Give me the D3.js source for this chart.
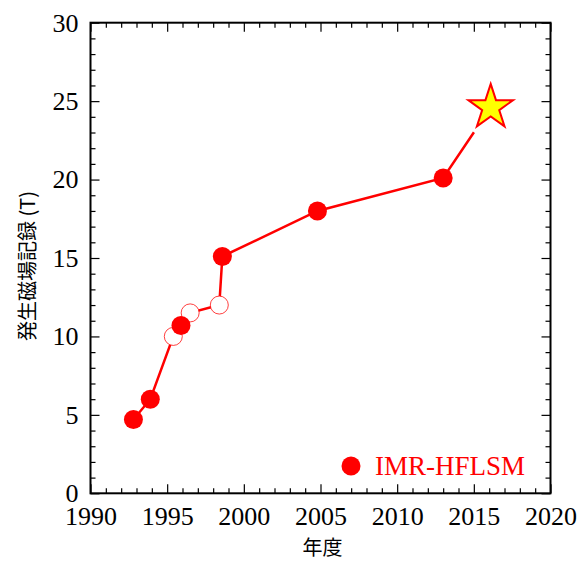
<!DOCTYPE html>
<html>
<head>
<meta charset="utf-8">
<script src="https://cdn.jsdelivr.net/npm/d3@7"></script>
<style>
  html, body { margin: 0; padding: 0; background: #fff; }
  svg { display: block; }
</style>
</head>
<body>
<div id="chart"></div>
<script>
// Record fields generated at the lab, by year
const years  = [1992.8, 1993.9, 1995.4, 1995.9, 1996.5, 1998.4, 1998.6, 2004.8, 2013.0, 2016.1];
const fields = [4.7,    6.0,    10.0,   10.7,   11.5,   12.0,   15.1,   18.0,   20.1,   24.6];
// "filled" = marked record, "open" = intermediate, "star" = latest record
const kinds  = ["filled", "filled", "open", "filled", "open", "open", "filled", "filled", "filled", "star"];

const xTicks = [1990, 1995, 2000, 2005, 2010, 2015, 2020];
const yTicks = [0, 5, 10, 15, 20, 25, 30];
const xLabel = "年度";
const yLabel = "発生磁場記録 (T)";
const legendLabel = "IMR-HFLSM";

const W = 577, H = 561;
const margin = { left: 90.5, right: 26.5, top: 22.7, bottom: 67.7 };
const iw = W - margin.left - margin.right;
const ih = H - margin.top - margin.bottom;

const RED = "#ff0000";
const serif = "'Liberation Serif', 'Times New Roman', serif";
const cjk = "'Noto Sans CJK JP', 'Noto Sans', sans-serif";

const svg = d3.select("#chart").append("svg")
  .attr("width", W).attr("height", H);

const g = svg.append("g").attr("transform", `translate(${margin.left},${margin.top})`);

const x = d3.scaleLinear().domain([1990, 2020]).range([0, iw]);
const y = d3.scaleLinear().domain([0, 30]).range([ih, 0]);

const xMinor = d3.range(1990, 2021, 1).filter(v => v % 5 !== 0);
const yMinor = d3.range(0, 31, 1).filter(v => v % 5 !== 0);

function styleAxis(sel) {
  sel.select(".domain").remove();
  sel.selectAll(".tick line").attr("stroke", "#000").attr("stroke-width", 1.2);
  sel.selectAll(".tick text")
    .attr("fill", "#000")
    .style("font-family", serif)
    .style("font-size", "26px");
}

// Major ticks with labels (bottom, left), inward
g.append("g").attr("transform", `translate(0,${ih})`)
  .call(d3.axisBottom(x).tickValues(xTicks).tickFormat(d3.format("d")).tickSize(-9).tickPadding(13))
  .call(styleAxis);
g.append("g")
  .call(d3.axisLeft(y).tickValues(yTicks).tickFormat(d3.format("d")).tickSize(-9).tickPadding(12))
  .call(styleAxis);

// Minor ticks bottom / left
g.append("g").attr("transform", `translate(0,${ih})`)
  .call(d3.axisBottom(x).tickValues(xMinor).tickFormat("").tickSize(-5))
  .call(styleAxis);
g.append("g")
  .call(d3.axisLeft(y).tickValues(yMinor).tickFormat("").tickSize(-5))
  .call(styleAxis);

// Mirrored ticks on top / right
g.append("g")
  .call(d3.axisTop(x).tickValues(xTicks).tickFormat("").tickSize(-9))
  .call(styleAxis);
g.append("g")
  .call(d3.axisTop(x).tickValues(xMinor).tickFormat("").tickSize(-5))
  .call(styleAxis);
g.append("g").attr("transform", `translate(${iw},0)`)
  .call(d3.axisRight(y).tickValues(yTicks).tickFormat("").tickSize(-9))
  .call(styleAxis);
g.append("g").attr("transform", `translate(${iw},0)`)
  .call(d3.axisRight(y).tickValues(yMinor).tickFormat("").tickSize(-5))
  .call(styleAxis);

// Frame
g.append("rect")
  .attr("x", 0).attr("y", 0).attr("width", iw).attr("height", ih)
  .attr("fill", "none").attr("stroke", "#000").attr("stroke-width", 2);

const pts = years.map((yr, i) => ({ yr, f: fields[i], kind: kinds[i] }));

// Connecting line; the last segment stops short of the star
const linePts = pts.map(d => [x(d.yr), y(d.f)]);
const n = linePts.length;
const [ax, ay] = linePts[n - 2];
const [bx, by] = linePts[n - 1];
const segLen = Math.hypot(bx - ax, by - ay);
const gap = 30;
linePts[n - 1] = [bx - (bx - ax) * gap / segLen, by - (by - ay) * gap / segLen];

g.append("path")
  .datum(linePts)
  .attr("d", d3.line())
  .attr("fill", "none")
  .attr("stroke", RED)
  .attr("stroke-width", 2.5);

// Open circles (drawn under the filled ones)
g.selectAll("circle.open")
  .data(pts.filter(d => d.kind === "open"))
  .join("circle")
  .attr("class", "open")
  .attr("cx", d => x(d.yr)).attr("cy", d => y(d.f))
  .attr("r", 9)
  .attr("fill", "#fff")
  .attr("stroke", RED)
  .attr("stroke-opacity", 0.75)
  .attr("stroke-width", 1);

// Filled circles
g.selectAll("circle.filled")
  .data(pts.filter(d => d.kind === "filled"))
  .join("circle")
  .attr("class", "filled")
  .attr("cx", d => x(d.yr)).attr("cy", d => y(d.f))
  .attr("r", 9.5)
  .attr("fill", RED);

// Star for the latest record
const starR = 23.5, starr = starR * 0.382;
const starPts = d3.range(10).map(i => {
  const a = -Math.PI / 2 + i * Math.PI / 5;
  const r = i % 2 === 0 ? starR : starr;
  return [r * Math.cos(a), r * Math.sin(a)];
});
g.selectAll("path.star")
  .data(pts.filter(d => d.kind === "star"))
  .join("path")
  .attr("class", "star")
  .attr("transform", d => `translate(${x(d.yr)},${y(d.f)})`)
  .attr("d", d3.line().curve(d3.curveLinearClosed)(starPts))
  .attr("fill", "#ffff00")
  .attr("stroke", RED)
  .attr("stroke-width", 2)
  .attr("stroke-linejoin", "miter");

// Legend
g.append("circle")
  .attr("cx", 351 - margin.left).attr("cy", 466 - margin.top)
  .attr("r", 9.5).attr("fill", RED);
g.append("text")
  .attr("x", 375 - margin.left).attr("y", 475 - margin.top)
  .attr("fill", RED)
  .style("font-family", serif)
  .style("font-size", "27px")
  .text(legendLabel);

// Axis titles
svg.append("text")
  .attr("x", margin.left + iw / 2 + 2).attr("y", 555)
  .attr("text-anchor", "middle")
  .attr("fill", "#000")
  .style("font-family", cjk)
  .style("font-size", "20px")
  .text(xLabel);

svg.append("text")
  .attr("transform", `translate(35,${margin.top + ih / 2 + 8}) rotate(-90)`)
  .attr("text-anchor", "middle")
  .attr("fill", "#000")
  .style("font-family", cjk)
  .style("font-size", "20px")
  .text(yLabel);
</script>
</body>
</html>
